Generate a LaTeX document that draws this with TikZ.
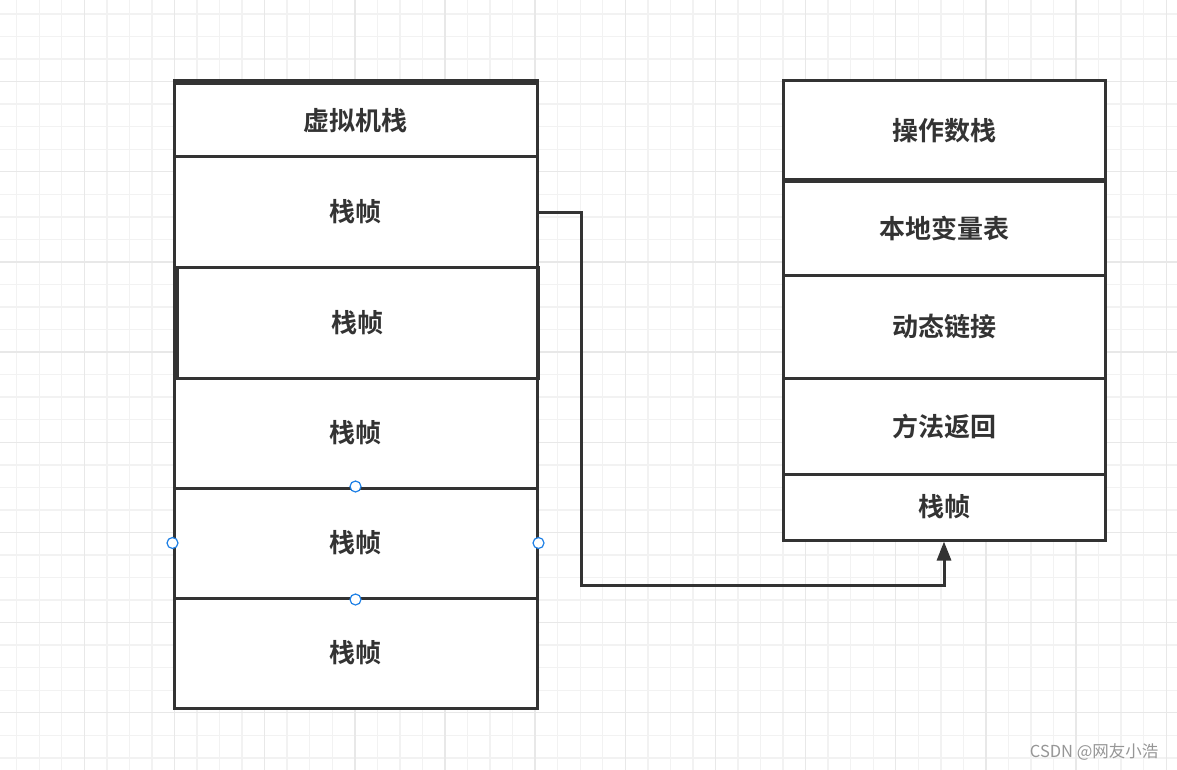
\documentclass[tikz,border=0pt]{standalone}
\usepackage{fontspec}
\usetikzlibrary{arrows.meta,positioning}
\newfontfamily\cjk{Noto Sans CJK SC}
\newfontfamily\cjkbold{Noto Sans CJK SC Bold}
\definecolor{inkgray}{RGB}{51,51,51}
\definecolor{gridminor}{RGB}{242,242,242}
\definecolor{gridmajor}{RGB}{232,232,232}
\definecolor{handleblue}{RGB}{30,128,230}
\definecolor{markgray}{RGB}{150,150,150}
\tikzset{
  cell/.style={draw=inkgray,fill=white,line width=3pt,inner sep=0pt,
               font=\cjkbold\fontsize{26}{26}\selectfont,text=inkgray},
  frame/.style={draw=inkgray,line width=3pt,inner sep=0pt},
  handle/.style={circle,draw=handleblue,fill=white,line width=1.2pt,
                 minimum size=11pt,inner sep=0pt},
  arr/.style={-{Triangle[length=19pt,width=14pt]},draw=inkgray,line width=3pt},
}
\begin{document}
\begin{tikzpicture}[x=1pt,y=-1pt]
  \useasboundingbox[fill=white] (0,0) rectangle (1177,770);
  % grid
  \foreach \k in {0,...,51}
    \draw[gridminor,line width=1.4pt] (16.7+22.54*\k,0) -- (16.7+22.54*\k,770);
  \foreach \k in {0,...,33}
    \draw[gridminor,line width=1.4pt] (0,14+22.54*\k) -- (1177,14+22.54*\k);
  \foreach \k in {3,7,...,51}
    \draw[gridmajor,line width=1.4pt] (16.7+22.54*\k,0) -- (16.7+22.54*\k,770);
  \foreach \k in {3,7,...,33}
    \draw[gridmajor,line width=1.4pt] (0,14+22.54*\k) -- (1177,14+22.54*\k);

  % virtual machine stack
  \node[frame,fill=white,minimum width=363pt,minimum height=627pt] (vms) at (355.5,394.5) {};
  \node[cell,minimum width=363pt,minimum height=73pt] (head) at (355.5,120.5) {虚拟机栈};
  \node[cell,minimum width=363pt,minimum height=110pt] (f1) at (355.5,212) {栈帧};
  \node[cell,minimum width=361pt,minimum height=111pt] (f2) at (357.5,322.5) {栈帧};
  \node[cell,minimum width=363pt,minimum height=110pt] (f3) at (355.5,433) {栈帧};
  \node[cell,minimum width=363pt,minimum height=110pt] (f4) at (355.5,543) {栈帧};
  \node[cell,minimum width=363pt,minimum height=110pt] (f5) at (355.5,653) {栈帧};
  \node[frame,minimum width=363pt,minimum height=627pt] at (vms) {};

  % stack frame
  \node[cell,minimum width=322pt,minimum height=99pt] (ops) at (944,130.5) {操作数栈};
  \node[cell,minimum width=322pt,minimum height=93pt] (loc) at (944,228.5) {本地变量表};
  \node[cell,minimum width=322pt,minimum height=103pt] (dyn) at (944,326.5) {动态链接};
  \node[cell,minimum width=322pt,minimum height=96pt] (ret) at (944,426) {方法返回};
  \node[cell,minimum width=322pt,minimum height=66pt] (sf) at (944,507) {栈帧};

  % connector
  \coordinate (bend) at (581,585);
  \draw[arr] (f1.east) -| (bend) -| (sf.south);

  % selection handles
  \node[handle] (h1) at (f4.north) {};
  \node[handle] (h2) at (f4.west) {};
  \node[handle] (h3) at (f4.east) {};
  \node[handle] (h4) at (f4.south) {};

  \node[anchor=east,text=markgray,font=\cjk\fontsize{16.5}{16.5}\selectfont] (mark) at (1162,752) {CSDN @网友小浩};
\end{tikzpicture}
\end{document}
